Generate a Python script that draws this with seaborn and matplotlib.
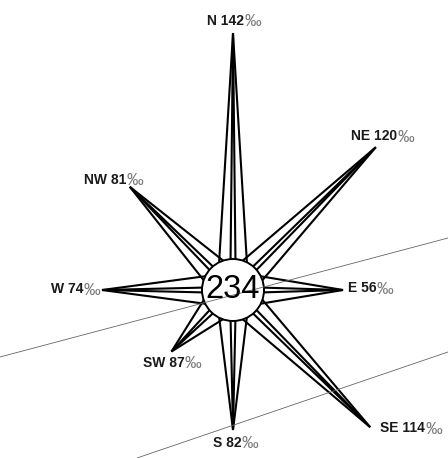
import numpy as np
import pandas as pd
import matplotlib
matplotlib.use("Agg")
import matplotlib.pyplot as plt
import seaborn as sns
from matplotlib.patches import Circle

# ---- data -----------------------------------------------------------
directions = ["N", "NE", "E", "SE", "S", "SW", "W", "NW"]
bearings_deg = [0, 45, 90, 135, 180, 225, 270, 315]
share_permille = [142, 120, 56, 114, 82, 87, 74, 81]
# drawn spike lengths (pixels from the centre)
spike_length = [257, 202, 110, 194, 140, 87, 131, 146]
total_count = 234
# thin background lines (map lines), endpoints in chart units
road_x = [[-233, 215], [-96, 215]]
road_y = [[-67, 52], [-168, -62]]

# ---- style / layout -------------------------------------------------
sns.set_theme(style="white")
plt.rcParams['font.family'] = ['Liberation Sans', 'DejaVu Sans']

hub_radius = 31
base_r = 26
outer_half = 14
inner_half = 2.5

label_style = {
    "N":  dict(off=(1, 12),  ha="center"),
    "NE": dict(off=(7, 11),  ha="center"),
    "E":  dict(off=(5, 2),   ha="left"),
    "SE": dict(off=(10, -1), ha="left"),
    "S":  dict(off=(3, -13), ha="center"),
    "SW": dict(off=(1, -11), ha="center"),
    "W":  dict(off=(-2, 1),  ha="right"),
    "NW": dict(off=(13, 7),  ha="right"),
}

rows = []
tips = {}
for d, b, L in zip(directions, bearings_deg, spike_length):
    t = np.deg2rad(90 - b)
    u = np.array([np.cos(t), np.sin(t)])
    p = np.array([-np.sin(t), np.cos(t)])
    tip = L * u
    tips[d] = tip
    for kind, hw in (("outer", outer_half), ("inner", inner_half)):
        pts = [base_r * u + hw * p, tip, base_r * u - hw * p]
        for i, (x, y) in enumerate(pts):
            rows.append(dict(unit=f"{d}-{kind}", order=i, x=x, y=y))
spikes = pd.DataFrame(rows)

road_rows = []
for k, (xs, ys) in enumerate(zip(road_x, road_y)):
    for i, (x, y) in enumerate(zip(xs, ys)):
        road_rows.append(dict(unit=k, order=i, x=x, y=y))
roads = pd.DataFrame(road_rows)

fig = plt.figure(figsize=(4.48, 4.58), dpi=100)
ax = fig.add_axes([0, 0, 1, 1])
ax.set_xlim(-233, 215)
ax.set_ylim(-168, 290)
ax.set_aspect("equal")
ax.axis("off")

sns.lineplot(data=spikes, x="x", y="y", units="unit", estimator=None,
             sort=False, color="black", linewidth=1.5, ax=ax,
             legend=False, zorder=2, solid_joinstyle="miter")

ax.add_patch(Circle((0, 0), hub_radius, facecolor="white",
                    edgecolor="black", linewidth=1.4, zorder=3))

sns.lineplot(data=roads, x="x", y="y", units="unit", estimator=None,
             sort=False, color="#666666", linewidth=0.6, ax=ax,
             legend=False, zorder=4)

ax.text(0, 0, str(total_count), fontsize=23.5, ha="center", va="center",
        color="black", zorder=5)

fig.canvas.draw()
renderer = fig.canvas.get_renderer()
for d, v in zip(directions, share_permille):
    st = label_style[d]
    main = ax.annotate(f"{d} {v}", xy=tips[d], xytext=st["off"],
                       textcoords="offset pixels", ha="left", va="center",
                       fontsize=10, fontweight="bold", color="#1a1a1a",
                       zorder=6)
    pm = ax.annotate("‰", xy=tips[d], xytext=st["off"],
                     textcoords="offset pixels", ha="left", va="center",
                     fontsize=12, color="#7a7a7a", zorder=6)
    w1 = main.get_window_extent(renderer).width
    w2 = pm.get_window_extent(renderer).width
    tot = w1 + w2
    shift = {"left": 0, "center": tot / 2, "right": tot}[st["ha"]]
    ox, oy = st["off"]
    main.set_position((ox - shift, oy))
    pm.set_position((ox - shift + w1, oy - 1))

fig.savefig("out.png", dpi=100)
